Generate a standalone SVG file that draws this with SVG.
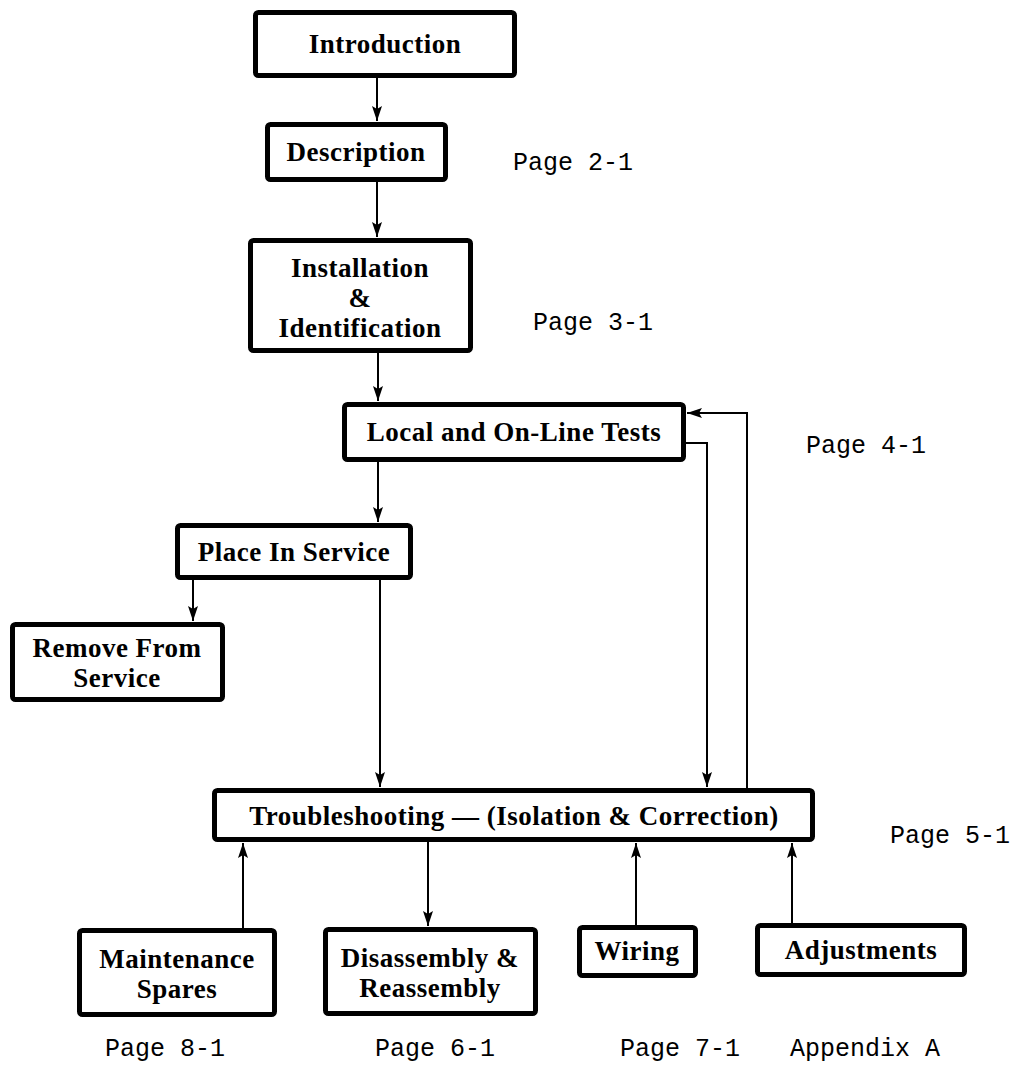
<svg xmlns="http://www.w3.org/2000/svg" width="1020" height="1081" viewBox="0 0 1020 1081">
<defs>
<marker id="ah" markerUnits="userSpaceOnUse" markerWidth="16" markerHeight="12" refX="15" refY="5" orient="auto">
<path d="M0,0 L15,5 L0,10 L3,5 Z" fill="#000"/>
</marker>
</defs>
<style>
.box{fill:#fff;stroke:#000;stroke-width:5;}
.lbl{font-family:"Liberation Serif","Times New Roman",serif;font-weight:bold;font-size:27px;letter-spacing:0.5px;text-anchor:middle;fill:#000;}
.pg{font-family:"Liberation Mono","Courier New",monospace;font-size:25px;fill:#000;}
.cn{fill:none;stroke:#000;stroke-width:2;}
.ar{marker-end:url(#ah);}
</style>
<rect width="1020" height="1081" fill="#fff"/>
<g id="connectors">
<line class="cn ar" x1="377" y1="78" x2="377" y2="121"/>
<line class="cn ar" x1="377" y1="182" x2="377" y2="237"/>
<line class="cn ar" x1="378" y1="352" x2="378" y2="401"/>
<line class="cn ar" x1="378" y1="462" x2="378" y2="522"/>
<line class="cn ar" x1="193" y1="580" x2="193" y2="621"/>
<line class="cn ar" x1="380" y1="580" x2="380" y2="787"/>
<polyline class="cn ar" points="686,443 707,443 707,787"/>
<polyline class="cn ar" points="747,788 747,413 687,413"/>
<line class="cn ar" x1="243" y1="928" x2="243" y2="843"/>
<line class="cn ar" x1="428" y1="842" x2="428" y2="926"/>
<line class="cn ar" x1="636" y1="925" x2="636" y2="843"/>
<line class="cn ar" x1="792" y1="923" x2="792" y2="843"/>
</g>
<g id="introduction">
<rect class="box" x="255.5" y="12.5" width="259" height="63" rx="3"/>
<text class="lbl" x="385" y="53">Introduction</text>
</g>
<g id="description">
<rect class="box" x="267.5" y="124.5" width="178" height="55" rx="3"/>
<text class="lbl" x="356" y="161">Description</text>
</g>
<text class="pg" x="513" y="170">Page 2-1</text>
<g id="installation">
<rect class="box" x="250.5" y="240.5" width="220" height="110" rx="3"/>
<text class="lbl" x="360" y="277">Installation</text>
<text class="lbl" x="360" y="307">&amp;</text>
<text class="lbl" x="360" y="337">Identification</text>
</g>
<text class="pg" x="533" y="330">Page 3-1</text>
<g id="local-tests">
<rect class="box" x="344.5" y="404.5" width="339" height="55" rx="3"/>
<text class="lbl" x="514" y="441">Local and On-Line Tests</text>
</g>
<text class="pg" x="806" y="453">Page 4-1</text>
<g id="place-in-service">
<rect class="box" x="177.5" y="525.5" width="233" height="52" rx="3"/>
<text class="lbl" x="294" y="561">Place In Service</text>
</g>
<g id="remove-from-service">
<rect class="box" x="12.5" y="624.5" width="210" height="75" rx="3"/>
<text class="lbl" x="117" y="657">Remove From</text>
<text class="lbl" x="117" y="687">Service</text>
</g>
<g id="troubleshooting">
<rect class="box" x="214.5" y="790.5" width="598" height="49" rx="3"/>
<text class="lbl" x="514" y="825">Troubleshooting — (Isolation &amp; Correction)</text>
</g>
<text class="pg" x="890" y="843">Page 5-1</text>
<g id="maintenance-spares">
<rect class="box" x="79.5" y="930.5" width="195" height="84" rx="3"/>
<text class="lbl" x="177" y="968">Maintenance</text>
<text class="lbl" x="177" y="998">Spares</text>
</g>
<g id="disassembly">
<rect class="box" x="325.5" y="929.5" width="210" height="84" rx="3"/>
<text class="lbl" x="430" y="967">Disassembly &amp;</text>
<text class="lbl" x="430" y="997">Reassembly</text>
</g>
<g id="wiring">
<rect class="box" x="579.5" y="927.5" width="116" height="48" rx="3"/>
<text class="lbl" x="637" y="960">Wiring</text>
</g>
<g id="adjustments">
<rect class="box" x="757.5" y="925.5" width="207" height="49" rx="3"/>
<text class="lbl" x="861" y="959">Adjustments</text>
</g>
<text class="pg" x="105" y="1056">Page 8-1</text>
<text class="pg" x="375" y="1056">Page 6-1</text>
<text class="pg" x="620" y="1056">Page 7-1</text>
<text class="pg" x="790" y="1056">Appendix A</text>
</svg>
